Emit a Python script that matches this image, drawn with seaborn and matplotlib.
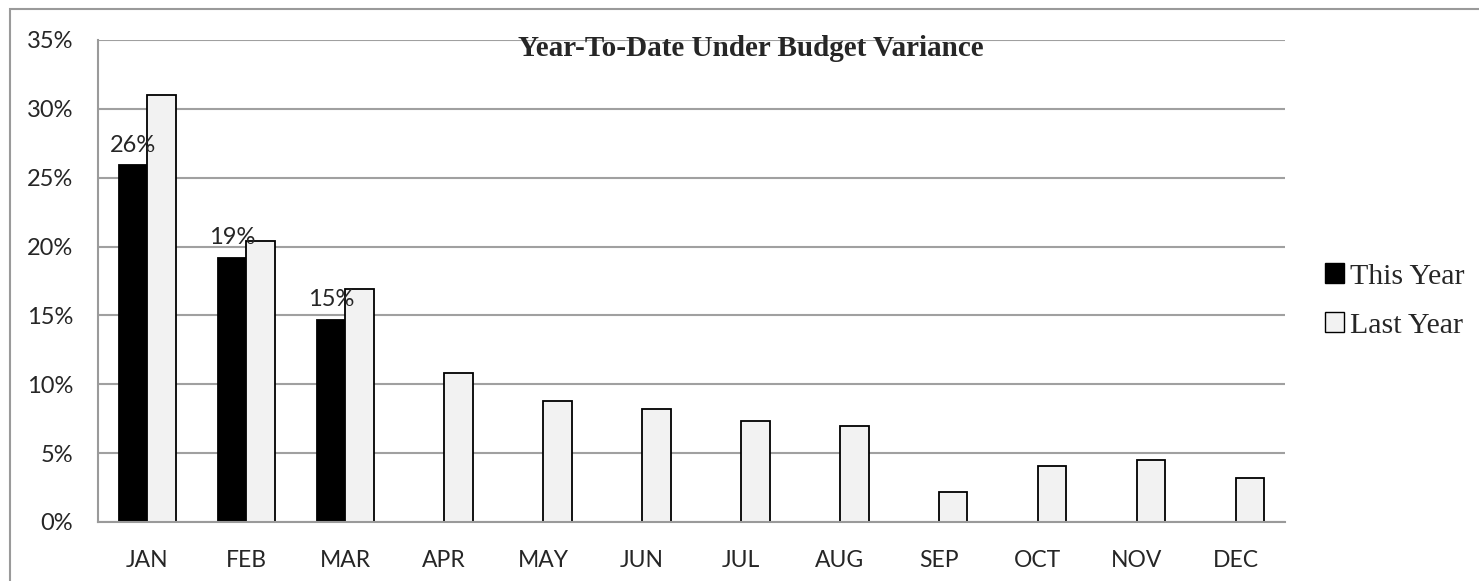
import numpy as np
import pandas as pd
import seaborn as sns
import matplotlib.pyplot as plt
from matplotlib.patches import Rectangle, Patch

months = ["JAN", "FEB", "MAR", "APR", "MAY", "JUN", "JUL", "AUG", "SEP", "OCT", "NOV", "DEC"]
this_year = [25.9, 19.2, 14.7, np.nan, np.nan, np.nan, np.nan, np.nan, np.nan, np.nan, np.nan, np.nan]
last_year = [31.0, 20.4, 16.9, 10.8, 8.8, 8.2, 7.3, 7.0, 2.2, 4.1, 4.5, 3.2]
bar_labels = ["26%", "19%", "15%"]

df = pd.DataFrame({
    "Month": months * 2,
    "Variance": this_year + last_year,
    "Series": ["This Year"] * 12 + ["Last Year"] * 12,
})

sns.set_style("white")
plt.rcParams["font.family"] = ["Lato", "DejaVu Sans"]

fig = plt.figure(figsize=(14.79, 5.81), dpi=100)
ax = fig.add_axes([98 / 1479, 1 - 522 / 581, (1285 - 98) / 1479, (522 - 40) / 581])

# outer chart frame
fig.patches.append(Rectangle((10 / 1479, -0.1), 1.2, 1 - 9 / 581 + 0.1, transform=fig.transFigure,
                             fill=False, edgecolor="#9a9a9a", linewidth=1.5, zorder=0))

sns.barplot(data=df, x="Month", y="Variance", hue="Series", order=months,
            hue_order=["This Year", "Last Year"],
            palette={"This Year": "black", "Last Year": "#f2f2f2"},
            width=0.58, gap=0, edgecolor="black", linewidth=1.3, legend=False, ax=ax)

for i, lab in enumerate(bar_labels):
    ax.text(i - 0.145, this_year[i] + 0.7, lab, ha="center", va="bottom", fontsize=17)

ax.set_ylim(0, 35)
ax.set_xlim(-0.5, 11.5)
ax.set_yticks(range(0, 36, 5))
ax.set_yticklabels([f"{v}%" for v in range(0, 36, 5)], fontsize=17)
ax.set_xticks(range(12))
ax.set_xticklabels(months, fontsize=16.5)
ax.set_xticks(np.arange(-0.5, 12, 1), minor=True)
ax.tick_params(axis="x", which="major", length=0, pad=20)
ax.tick_params(axis="x", which="minor", length=6, width=1.5, color="#9a9a9a", direction="out")
ax.tick_params(axis="y", length=6, width=1.5, color="#9a9a9a", direction="out", pad=12)
ax.yaxis.grid(True, color="#a0a0a0", linewidth=1.5)
ax.set_axisbelow(True)
ax.set_xlabel("")
ax.set_ylabel("")
for s in ["top", "right"]:
    ax.spines[s].set_visible(False)
for s in ["left", "bottom"]:
    ax.spines[s].set_color("#9a9a9a")
    ax.spines[s].set_linewidth(1.5)

fig.text(751 / 1479, 1 - 49 / 581, "Year-To-Date Under Budget Variance", ha="center", va="center",
         fontsize=21, fontweight="bold", family="Liberation Serif")

handles = [Patch(facecolor="black", edgecolor="black", linewidth=1),
           Patch(facecolor="#f2f2f2", edgecolor="black", linewidth=1)]
fig.legend(handles, ["This Year", "Last Year"], loc="center left",
           bbox_to_anchor=(1298 / 1479, 1 - 301 / 581), frameon=False,
           handlelength=0.65, handleheight=0.65, handletextpad=0.2, labelspacing=0.75,
           prop={"family": "Liberation Serif", "size": 21.5})

fig.savefig("out.png", dpi=100)
